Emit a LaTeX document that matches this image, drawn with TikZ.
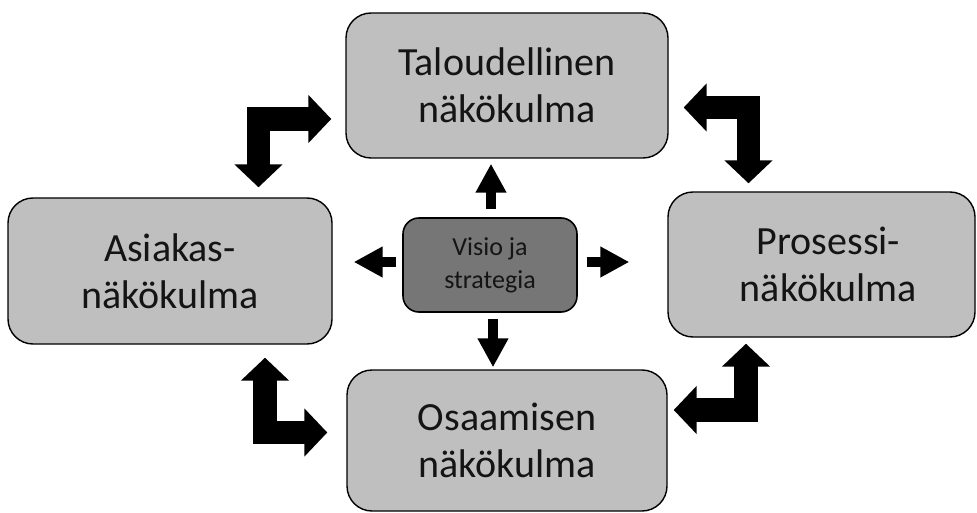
\documentclass[tikz,border=0pt]{standalone}
\usepackage{fontspec}
\setmainfont{Carlito}
\usetikzlibrary{arrows.meta}
\definecolor{boxgray}{RGB}{191,191,191}
\definecolor{darkbox}{RGB}{118,118,118}
\definecolor{txt}{RGB}{20,20,20}
\begin{document}
\begin{tikzpicture}[x=1pt,y=-1pt,
  box/.style={draw=black, line width=1.4pt, fill=boxgray, rounded corners=25pt,
    inner sep=0pt, align=center, text=txt, font=\fontsize{40}{47}\selectfont},
  cbox/.style={draw=black, line width=1.6pt, fill=darkbox, rounded corners=16pt,
    inner sep=0pt, align=center, text=txt, font=\fontsize{26}{33}\selectfont},
  smallarrow/.style={line width=10pt, -{Triangle[width=29pt,length=29pt]}},
  bigarrow/.style={line width=23.5pt, line join=miter,
    {Triangle[width=47pt,length=23pt]}-{Triangle[width=47pt,length=23pt]}}]
\useasboundingbox (0,0) rectangle (977,513);
\node[box, minimum width=322pt, minimum height=145pt] (fin) at (507,85.5) {Taloudellinen\\näkökulma};
\node[box, minimum width=324pt, minimum height=146pt] (cust) at (170,271) {Asiakas-\\näkökulma};
\node[box, minimum width=307pt, minimum height=145pt] (proc) at (821.5,264.5) {\hspace*{14pt}Prosessi-\\\hspace*{14pt}näkökulma};
\node[box, minimum width=320pt, minimum height=141pt] (learn) at (507,440.5) {Osaamisen\\näkökulma};
\node[cbox, minimum width=174pt, minimum height=94pt] (vis) at (490,265) {Visio ja\\strategia};
% small arrows from the centre
\draw[smallarrow] ([shift={(1,-8)}]vis.north) -- ([shift={(-16,5)}]fin.south);
\draw[smallarrow] ([shift={(3,6)}]vis.south) -- ([shift={(-14,-2)}]learn.north);
\draw[smallarrow] ([shift={(-6,-3)}]vis.west) -- ([shift={(21,-9)}]cust.east);
\draw[smallarrow] ([shift={(9,-3)}]vis.east) -- ([shift={(-38,-2.5)}]proc.west);
% bent double arrows
\draw[bigarrow] ([shift={(88.5,-10)}]cust.north) |- ([shift={(-14,33.5)}]fin.west);
\draw[bigarrow] ([shift={(15,22)}]fin.east) -| ([shift={(-73,-8)}]proc.north);
\draw[bigarrow] ([shift={(95,13)}]cust.south) |- ([shift={(-19,-8)}]learn.west);
\draw[bigarrow] ([shift={(-75.5,6)}]proc.south) |- ([shift={(6,-30.5)}]learn.east);
\end{tikzpicture}
\end{document}
